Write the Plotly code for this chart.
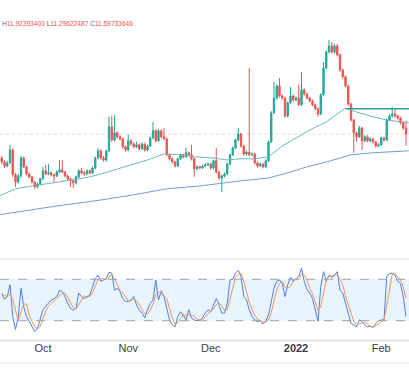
import plotly.graph_objects as go
import pandas as pd

start_date = "2021-09-16"

opens = [10.99,10.89,10.79,10.87,11.19,10.57,10.39,10.54,10.99,10.77,
         10.59,10.52,10.39,10.27,10.34,10.47,10.67,10.59,10.62,10.57,
         10.54,10.64,10.69,10.64,10.54,10.47,10.42,10.37,10.52,10.67,
         10.62,10.59,10.67,10.62,10.74,10.99,11.17,10.99,10.94,11.17,
         11.77,11.44,11.62,11.52,11.47,11.27,11.19,11.42,11.34,11.27,
         11.32,11.22,11.34,11.19,11.29,11.49,11.67,11.42,11.67,11.52,
         11.47,11.07,10.97,10.89,10.79,10.97,11.07,11.02,11.12,11.07,
         10.97,10.72,10.77,10.74,10.79,10.82,10.84,10.74,10.92,10.64,
         10.49,10.54,10.59,10.84,11.07,11.24,11.44,11.59,11.29,11.09,
         11.14,11.07,11.09,10.87,10.79,10.84,10.77,10.92,11.39,12.12,
         12.49,12.79,12.54,12.49,12.04,12.37,12.54,12.44,12.49,12.32,
         12.69,12.59,12.49,12.42,12.32,12.22,12.09,12.57,13.24,13.64,
         13.79,13.64,13.79,13.57,13.19,13.02,12.79,12.34,11.94,11.62,
         11.52,11.74,11.42,11.52,11.42,11.47,11.39,11.29,11.32,11.49,
         11.44,11.94,12.04,12.09,12.04,11.99,11.87,11.74]

highs = [11.04,10.93,10.92,11.32,11.24,10.62,10.59,11.04,11.03,10.80,
         10.63,10.55,10.42,10.38,10.50,10.77,10.82,10.84,10.66,10.60,
         10.68,10.94,10.94,10.67,10.57,10.50,10.45,10.55,10.71,10.74,
         10.66,10.71,10.70,10.78,11.03,11.24,11.21,11.04,11.20,12.02,
         12.04,12.07,11.66,11.56,11.50,11.30,11.57,11.46,11.38,11.40,
         11.36,11.38,11.37,11.33,11.53,11.89,11.71,11.72,11.71,11.74,
         11.50,11.10,11.00,10.92,11.00,11.10,11.10,11.24,11.15,11.32,
         11.00,10.80,10.80,10.82,10.86,10.88,10.87,10.95,11.24,10.67,
         10.58,10.63,10.88,11.10,11.28,11.48,11.74,11.62,11.32,11.18,
         13.24,11.13,11.12,10.90,10.88,10.87,10.96,11.43,12.16,12.89,
         12.83,12.99,12.58,12.52,12.40,12.77,12.58,12.53,12.82,13.14,
         12.73,12.62,12.52,12.45,12.35,12.25,12.61,13.39,13.68,13.94,
         13.89,13.84,13.84,13.60,13.22,13.05,12.82,12.37,11.97,11.65,
         11.80,11.77,11.56,11.56,11.51,11.50,11.42,11.36,11.53,11.52,
         11.98,12.08,12.27,12.24,12.07,12.02,11.90,11.92393403]

lows = [10.84,10.74,10.76,10.84,10.52,10.27,10.35,10.50,10.74,10.56,
        10.48,10.35,10.22,10.23,10.31,10.44,10.56,10.56,10.53,10.37,
        10.51,10.61,10.61,10.51,10.43,10.27,10.24,10.33,10.49,10.58,
        10.55,10.56,10.58,10.59,10.71,10.96,10.95,10.90,10.90,11.14,
        11.40,11.40,11.48,11.43,11.23,11.15,11.16,11.30,11.23,11.24,
        11.18,11.19,11.15,11.16,11.26,11.46,11.38,11.39,11.48,11.43,
        11.03,10.93,10.85,10.75,10.76,10.94,10.98,10.99,11.03,10.93,
        10.52,10.69,10.71,10.71,10.76,10.79,10.70,10.70,10.60,10.45,
        10.14,10.50,10.56,10.81,11.04,11.21,11.41,11.25,11.05,11.05,
        11.03,11.03,10.83,10.75,10.76,10.73,10.74,10.89,11.36,12.09,
        12.45,12.50,12.45,12.00,12.00,12.34,12.40,12.41,12.28,12.29,
        12.55,12.45,12.38,12.28,12.18,12.02,12.06,12.54,13.21,13.60,
        13.60,13.60,13.53,13.15,12.98,12.75,12.30,11.90,11.12,11.40,
        11.49,11.19,11.38,11.38,11.38,11.35,11.25,11.26,11.29,11.40,
        11.41,11.91,12.00,12.00,11.95,11.83,11.70,11.29622487]

closes = [10.89,10.79,10.87,11.19,10.57,10.39,10.54,10.99,10.77,10.59,
          10.52,10.39,10.27,10.34,10.47,10.67,10.59,10.62,10.57,10.54,
          10.64,10.69,10.64,10.54,10.47,10.42,10.37,10.52,10.67,10.62,
          10.59,10.67,10.62,10.74,10.99,11.17,10.99,10.94,11.17,11.77,
          11.44,11.62,11.52,11.47,11.27,11.19,11.42,11.34,11.27,11.32,
          11.22,11.34,11.19,11.29,11.49,11.67,11.42,11.67,11.52,11.47,
          11.07,10.97,10.89,10.79,10.97,11.07,11.02,11.12,11.07,10.97,
          10.72,10.77,10.74,10.79,10.82,10.84,10.74,10.92,10.64,10.49,
          10.54,10.59,10.84,11.07,11.24,11.44,11.59,11.29,11.09,11.14,
          11.07,11.09,10.87,10.79,10.84,10.77,10.92,11.39,12.12,12.49,
          12.79,12.54,12.49,12.04,12.37,12.54,12.44,12.49,12.32,12.69,
          12.59,12.49,12.42,12.32,12.22,12.09,12.57,13.24,13.64,13.79,
          13.64,13.79,13.57,13.19,13.02,12.79,12.34,11.94,11.62,11.52,
          11.74,11.42,11.52,11.42,11.47,11.39,11.29,11.32,11.49,11.44,
          11.94,12.04,12.09,12.04,11.99,11.87,11.74,11.58733646]

stoch_k = [60,51,55,72,26,7,26,67,40,26,19,11,4,9,24,36,41,45,50,52,
           55,64,62,55,45,38,35,38,60,55,52,55,57,69,81,86,77,79,81,90,
           89,64,67,62,52,48,48,50,55,43,35,31,24,36,45,50,79,50,62,55,
           38,21,14,11,26,33,28,21,36,24,21,20,21,24,31,36,33,43,52,43,
           31,31,45,79,80,89,93,84,55,50,36,26,21,19,20,15,19,28,50,67,
           77,79,74,55,72,83,77,80,84,96,77,65,60,52,33,19,69,91,77,86,
           84,86,91,64,60,45,28,16,14,11,21,19,14,11,12,10,16,20,21,21,
           85,88,89,86,77,74,55,26]

stoch_d = [58,56,55,59,51,35,20,33,44,44,28,19,11,8,12,23,34,41,45,49,
           52,57,60,60,54,46,39,37,44,51,56,54,55,60,69,79,81,81,79,83,
           87,81,73,64,60,54,49,49,51,49,44,36,30,30,35,44,58,60,64,56,
           52,38,24,15,17,23,29,27,28,27,27,22,21,22,25,30,33,37,43,46,
           42,35,36,52,68,83,87,89,77,63,47,37,28,22,20,18,18,21,32,48,
           65,74,77,69,67,70,77,80,80,87,86,79,67,59,48,35,40,60,79,85,
           82,85,87,80,72,56,44,30,19,14,15,17,18,15,12,11,13,15,19,21,
           42,65,87,88,84,79,69,52]

ma_fast_dates = ["2021-09-15","2021-09-21","2021-09-27","2021-10-04","2021-10-10",
                 "2021-10-16","2021-10-21","2021-10-27","2021-11-02","2021-11-08",
                 "2021-11-14","2021-11-20","2021-11-25","2021-12-02","2021-12-07",
                 "2021-12-12","2021-12-17","2021-12-22","2021-12-27","2022-01-01",
                 "2022-01-06","2022-01-12","2022-01-16","2022-01-19","2022-01-23",
                 "2022-01-28","2022-02-03","2022-02-11"]
ma_fast = [10.04,10.22,10.29,10.37,10.42,10.49,10.57,10.69,10.82,10.94,
           11.09,11.07,11.02,10.99,10.94,10.97,10.97,11.02,11.29,11.49,
           11.69,11.89,12.09,12.24,12.14,12.04,11.94,11.87]

ma_slow_dates = ["2021-09-15","2021-10-04","2021-10-22","2021-11-03","2021-11-15",
                 "2021-11-27","2021-12-12","2021-12-22","2021-12-30","2022-01-05",
                 "2022-01-12","2022-01-21","2022-01-29","2022-02-11"]
ma_slow = [9.57,9.77,9.94,10.07,10.22,10.29,10.42,10.49,10.64,10.77,
           10.89,11.07,11.12,11.17]

hline_level = 12.22
hline_start = "2022-01-19"

tick_dates = ["2021-10-01", "2021-11-01", "2021-12-01", "2022-01-01", "2022-02-01"]
tick_labels = ["Oct", "Nov", "Dec", "<b>2022</b>", "Feb"]

x_range = ["2021-09-15 08:44", "2022-02-11 02:10"]

dates = pd.date_range(start_date, periods=len(closes), freq="D")

UP = "#26a69a"
DOWN = "#ef5350"

fig = go.Figure()

fig.add_trace(go.Scatter(x=ma_slow_dates, y=ma_slow, mode="lines",
                         line=dict(color="#6f9fd2", width=1), hoverinfo="skip",
                         xaxis="x", yaxis="y"))
fig.add_trace(go.Scatter(x=ma_fast_dates, y=ma_fast, mode="lines",
                         line=dict(color="#72b6c0", width=1), hoverinfo="skip",
                         xaxis="x", yaxis="y"))

fig.add_trace(go.Candlestick(
    x=dates, open=opens, high=highs, low=lows, close=closes,
    increasing=dict(line=dict(color=UP, width=1), fillcolor=UP),
    decreasing=dict(line=dict(color=DOWN, width=1), fillcolor=DOWN),
    whiskerwidth=0, xaxis="x", yaxis="y"))

fig.add_trace(go.Scatter(x=dates, y=stoch_k, mode="lines",
                         line=dict(color="#4f7ff0", width=1), hoverinfo="skip",
                         xaxis="x", yaxis="y2"))
fig.add_trace(go.Scatter(x=dates, y=stoch_d, mode="lines",
                         line=dict(color="#f0955a", width=1), hoverinfo="skip",
                         xaxis="x", yaxis="y2"))

H = 384.0
def py(px):
    return 1 - px / H

shapes = [
    dict(type="rect", xref="paper", yref="y2", x0=0, x1=1, y0=20, y1=80,
         fillcolor="rgba(33,150,243,0.10)", line=dict(width=0), layer="below"),
    dict(type="line", xref="paper", yref="y2", x0=0, x1=1, y0=80, y1=80,
         line=dict(color="#9ea3ad", width=1, dash="dash")),
    dict(type="line", xref="paper", yref="y2", x0=0, x1=1, y0=20, y1=20,
         line=dict(color="#9ea3ad", width=1, dash="dash")),
    dict(type="line", xref="paper", yref="paper", x0=0, x1=1, y0=py(259), y1=py(259),
         line=dict(color="#e3e5ea", width=1)),
    dict(type="line", xref="paper", yref="paper", x0=0, x1=1, y0=py(340.5), y1=py(340.5),
         line=dict(color="#e3e5ea", width=2)),
    dict(type="line", xref="paper", yref="paper", x0=0, x1=1, y0=py(363), y1=py(363),
         line=dict(color="#e6e8ec", width=1)),
    dict(type="line", xref="paper", yref="y", x0=0, x1=1, y0=closes[-1], y1=closes[-1],
         line=dict(color="#e8dcdc", width=1, dash="dot"), layer="below"),
    dict(type="line", xref="x", yref="y", x0=hline_start, x1=x_range[1],
         y0=hline_level, y1=hline_level, line=dict(color="#2f9e92", width=1.6)),
]

ohlc_text = ("<span style='color:#5d606b'>H</span><span style='color:#ef5350'>%.8f</span> "
             "<span style='color:#5d606b'>L</span><span style='color:#ef5350'>%.8f</span> "
             "<span style='color:#5d606b'>C</span><span style='color:#ef5350'>%.8f</span>"
             % (highs[-1], lows[-1], closes[-1]))

fig.update_layout(
    width=409, height=384,
    margin=dict(l=0, r=0, t=0, b=0),
    paper_bgcolor="white", plot_bgcolor="white",
    showlegend=False,
    shapes=shapes,
    annotations=[dict(text=ohlc_text, xref="paper", yref="paper", x=0.0, y=py(23),
                      xanchor="left", yanchor="middle", showarrow=False,
                      font=dict(size=6.6, family="Liberation Sans, Arial, sans-serif"))],
    xaxis=dict(type="date", range=x_range, anchor="y2", showgrid=False,
               zeroline=False, showline=False, ticks="",
               tickvals=tick_dates, ticktext=tick_labels,
               tickfont=dict(size=11, color="#3a3d45",
                             family="Liberation Sans, Arial, sans-serif"),
               rangeslider=dict(visible=False)),
    yaxis=dict(domain=[py(258), 1.0], range=[8.49, 14.94], showgrid=False,
               zeroline=False, showticklabels=False, ticks=""),
    yaxis2=dict(domain=[py(340), py(259)], range=[-8.0, 109.4], showgrid=False,
                zeroline=False, showticklabels=False, ticks=""),
)

fig.write_html("out.html",
               config={"displayModeBar": False},
               post_script="document.body.style.margin='0px';document.body.style.padding='0px';")
